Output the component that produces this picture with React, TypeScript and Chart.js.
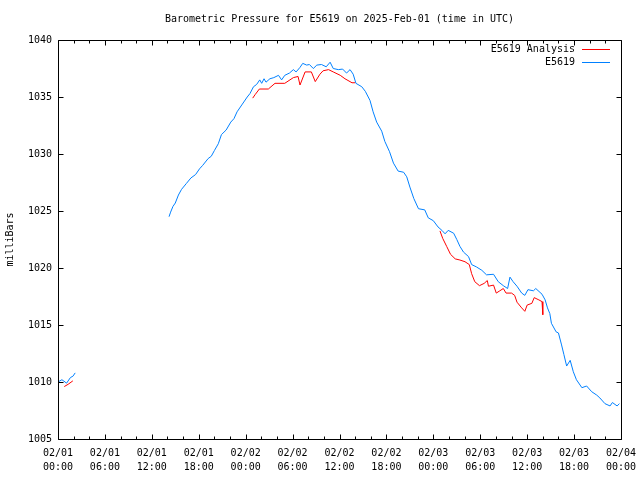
import React, { useEffect, useRef } from 'react';
import { Chart, registerables } from 'chart.js';

Chart.register(...registerables);

const TITLE = 'Barometric Pressure for E5619 on 2025-Feb-01 (time in UTC)';
const Y_TITLE = 'milliBars';
const FONT_FAMILY = '"DejaVu Sans Mono", "Liberation Mono", monospace';

const xTickDates = ['02/01', '02/01', '02/01', '02/01', '02/02', '02/02', '02/02', '02/02', '02/03', '02/03', '02/03', '02/03', '02/04'];
const xTickTimes = ['00:00', '06:00', '12:00', '18:00', '00:00', '06:00', '12:00', '18:00', '00:00', '06:00', '12:00', '18:00', '00:00'];
const X_MAX_HOURS = 72;
const MAJOR_STEP = 6;
const MINOR_STEP = 2;
const Y_MIN = 1005;
const Y_MAX = 1040;
const Y_STEP = 5;

const analysisLabel = 'E5619 Analysis';
const stationLabel = 'E5619';

// hours since 2025-02-01 00:00 UTC (null value = gap in the record)
const analysisHours = [
  0.8, 1.3, 1.9,
  12,
  24.9, 25.2, 25.75, 26.9, 27.75, 29.0, 30.1, 30.7, 30.95, 31.6, 32.4, 32.9, 33.5, 33.9,
  34.6, 35.2, 36.1, 36.7, 37.6, 38.0,
  43,
  48.85, 49.2, 49.7, 50.2, 50.8, 51.4, 52.05, 52.6, 52.9, 53.3, 53.9, 54.5, 54.9, 55.05,
  55.7, 56.05, 56.5, 56.95, 57.3, 58.0, 58.4, 58.7, 59.3, 59.7, 60.0, 60.6, 60.9, 61.5,
  61.9, 62.0,
];
const analysisValues = [
  1009.6, 1009.8, 1010.1,
  null,
  1034.9, 1035.2, 1035.7, 1035.7, 1036.2, 1036.2, 1036.7, 1036.8, 1036.05, 1037.2, 1037.2, 1036.35, 1037.0, 1037.3,
  1037.4, 1037.2, 1036.9, 1036.6, 1036.25, 1036.25,
  null,
  1023.25, 1022.6, 1021.9, 1021.2, 1020.8, 1020.7, 1020.55, 1020.3, 1019.5, 1018.8, 1018.45, 1018.65, 1018.9, 1018.4,
  1018.5, 1017.8, 1018.0, 1018.2, 1017.8, 1017.8, 1017.6, 1017.0, 1016.5, 1016.2, 1016.75, 1016.9, 1017.4, 1017.2,
  1017.05, 1015.9,
];

const stationHours = [
  0.0, 0.5, 1.1, 1.6, 1.9, 2.2,
  8,
  14.2, 14.4, 14.7, 15.0, 15.4, 15.8, 16.4, 17.0, 17.6, 18.1, 18.5, 19.2, 19.6, 20.0,
  20.5, 20.9, 21.5, 22.1, 22.5, 22.9, 23.5, 24.2, 24.55, 25.0, 25.4, 25.8, 26.05, 26.35,
  26.6, 27.1, 27.6, 28.2, 28.6, 29.0, 29.6, 30.1, 30.45, 30.95, 31.3, 31.8, 32.15, 32.65,
  33.1, 33.7, 34.3, 34.8, 35.2, 35.85, 36.4, 36.9, 37.35, 37.75, 38.1, 38.85, 39.3, 39.9,
  40.3, 40.75, 41.4, 41.8, 42.4, 42.9, 43.5, 44.2, 44.6, 45.0, 45.5, 46.1, 46.9, 47.35,
  48.0, 48.6, 49.1, 49.5, 49.9, 50.6, 51.0, 51.4, 51.85, 52.5, 52.9, 53.5, 54.2, 54.8,
  55.7, 56.3, 56.95, 57.5, 57.8, 58.2, 58.7, 59.3, 59.7, 60.1, 60.8, 61.1, 61.9, 62.3,
  62.6, 62.9, 63.1, 63.7, 64.0, 64.4, 64.7, 65.05, 65.5, 65.9, 66.3, 67.0, 67.6, 68.25,
  68.9, 69.3, 69.95, 70.6, 70.9, 71.5, 71.8,
];
const stationValues = [
  1010.0, 1010.2, 1009.9, 1010.4, 1010.5, 1010.8,
  null,
  1024.5, 1024.9, 1025.4, 1025.7, 1026.4, 1026.9, 1027.4, 1027.9, 1028.2, 1028.7, 1029.0, 1029.6, 1029.8, 1030.3,
  1030.9, 1031.7, 1032.1, 1032.8, 1033.1, 1033.7, 1034.3, 1035.0, 1035.3, 1035.9, 1036.1, 1036.5, 1036.2, 1036.6,
  1036.3, 1036.6, 1036.7, 1036.9, 1036.5, 1036.9, 1037.1, 1037.4, 1037.2, 1037.6, 1037.95, 1037.8, 1037.85, 1037.5,
  1037.8, 1037.85, 1037.65, 1038.05, 1037.5, 1037.4, 1037.45, 1037.1, 1037.4, 1037.0, 1036.2, 1035.9, 1035.5, 1034.7,
  1033.7, 1032.8, 1032.0, 1031.1, 1030.2, 1029.2, 1028.5, 1028.4, 1028.0, 1027.1, 1026.1, 1025.2, 1025.1, 1024.4,
  1024.15, 1023.6, 1023.3, 1023.0, 1023.3, 1023.05, 1022.5, 1021.9, 1021.4, 1021.0, 1020.3, 1020.1, 1019.8, 1019.4,
  1019.45, 1018.8, 1018.45, 1018.2, 1019.2, 1018.8, 1018.4, 1017.8, 1017.6, 1018.1, 1018.0, 1018.2, 1017.7, 1017.2,
  1016.5, 1016.0, 1015.15, 1014.4, 1014.3, 1013.25, 1012.4, 1011.4, 1011.9, 1010.9, 1010.2, 1009.5, 1009.65, 1009.15,
  1008.85, 1008.6, 1008.1, 1007.9, 1008.2, 1007.9, 1008.1,
];

const toPoints = (hours: number[], values: (number | null)[]) =>
  hours.map((h, i) => ({ x: h, y: values[i] }));

const gnuplotFrame = {
  id: 'gnuplotFrame',
  afterDraw(chart: any) {
    const { ctx, chartArea: a, scales } = chart;
    const xs = scales.x;
    const ys = scales.y;
    const L = Math.round(a.left) + 0.5;
    const R = Math.round(a.right) + 0.5;
    const T = Math.round(a.top) + 0.5;
    const B = Math.round(a.bottom) + 0.5;
    ctx.save();
    ctx.strokeStyle = '#000';
    ctx.lineWidth = 1;
    ctx.beginPath();
    ctx.rect(L, T, R - L, B - T);
    for (let h = 0; h <= X_MAX_HOURS; h += MINOR_STEP) {
      const px = Math.round(xs.getPixelForValue(h)) + 0.5;
      const len = h % MAJOR_STEP === 0 ? 5 : 3;
      ctx.moveTo(px, B);
      ctx.lineTo(px, B - len);
      ctx.moveTo(px, T);
      ctx.lineTo(px, T + len);
    }
    ys.ticks.forEach((t: any) => {
      const py = Math.round(ys.getPixelForValue(t.value)) + 0.5;
      ctx.moveTo(L, py);
      ctx.lineTo(L + 5, py);
      ctx.moveTo(R, py);
      ctx.lineTo(R - 5, py);
    });
    ctx.stroke();

    ctx.fillStyle = '#000';
    ctx.font = `10px ${FONT_FAMILY}`;
    ctx.textBaseline = 'middle';
    ctx.textAlign = 'center';
    ctx.fillText(TITLE, (a.left + a.right) / 2, 19);

    // legend (top-right, inside the plot)
    const entries = [0, 1].map((i) => chart.data.datasets[i]);
    entries.forEach((ds: any, i: number) => {
      const y = Math.round(a.top + 9 + i * 13) + 0.5;
      ctx.textAlign = 'right';
      ctx.fillStyle = '#000';
      ctx.fillText(ds.label, a.right - 46, y);
      ctx.strokeStyle = ds.borderColor;
      ctx.beginPath();
      ctx.moveTo(a.right - 39, y);
      ctx.lineTo(a.right - 11, y);
      ctx.stroke();
    });
    ctx.restore();
  },
};

export default function App() {
  const canvasRef = useRef<HTMLCanvasElement | null>(null);

  useEffect(() => {
    const canvas = canvasRef.current;
    if (!canvas) return;
    const tickFont = { family: FONT_FAMILY, size: 10, lineHeight: 1.4 };
    const chart = new Chart(canvas, {
      type: 'line',
      data: {
        datasets: [
          {
            label: analysisLabel,
            data: toPoints(analysisHours, analysisValues) as any,
            borderColor: '#ff0000',
            borderWidth: 1,
            pointRadius: 0,
            tension: 0,
            spanGaps: false,
            order: 1,
          },
          {
            label: stationLabel,
            data: toPoints(stationHours, stationValues) as any,
            borderColor: '#0080ff',
            borderWidth: 1,
            pointRadius: 0,
            tension: 0,
            spanGaps: false,
            order: 0,
          },
        ],
      },
      options: {
        animation: false,
        responsive: false,
        layout: { padding: { top: 40, right: 19, bottom: 0, left: 0 } },
        plugins: {
          legend: { display: false },
          title: { display: false },
          tooltip: { enabled: false },
        },
        scales: {
          x: {
            type: 'linear',
            min: 0,
            max: X_MAX_HOURS,
            grid: { display: false, drawTicks: false },
            border: { display: false },
            ticks: {
              stepSize: MAJOR_STEP,
              autoSkip: false,
              maxRotation: 0,
              padding: 7,
              color: '#000',
              font: tickFont,
              callback: (v: any) => {
                const i = Math.round(Number(v) / MAJOR_STEP);
                return [xTickDates[i], xTickTimes[i]];
              },
            },
            afterFit: (s: any) => {
              s.height = 41;
              s.paddingLeft = 0;
              s.paddingRight = 0;
            },
          },
          y: {
            type: 'linear',
            min: Y_MIN,
            max: Y_MAX,
            grid: { display: false, drawTicks: false },
            border: { display: false },
            ticks: {
              stepSize: Y_STEP,
              padding: 6,
              color: '#000',
              font: { family: FONT_FAMILY, size: 10 },
              callback: (v: any) => String(v),
            },
            title: {
              display: true,
              text: Y_TITLE,
              color: '#000',
              font: { family: FONT_FAMILY, size: 10 },
              padding: { top: 4, bottom: 0 },
            },
            afterFit: (s: any) => {
              s.width = 58;
              s.paddingTop = 0;
              s.paddingBottom = 0;
            },
          },
        },
      },
      plugins: [gnuplotFrame],
    });
    return () => chart.destroy();
  }, []);

  return (
    <div style={{ position: 'absolute', left: 0, top: 0, width: 640, height: 480, background: '#fff' }}>
      <canvas ref={canvasRef} width={640} height={480} />
    </div>
  );
}
